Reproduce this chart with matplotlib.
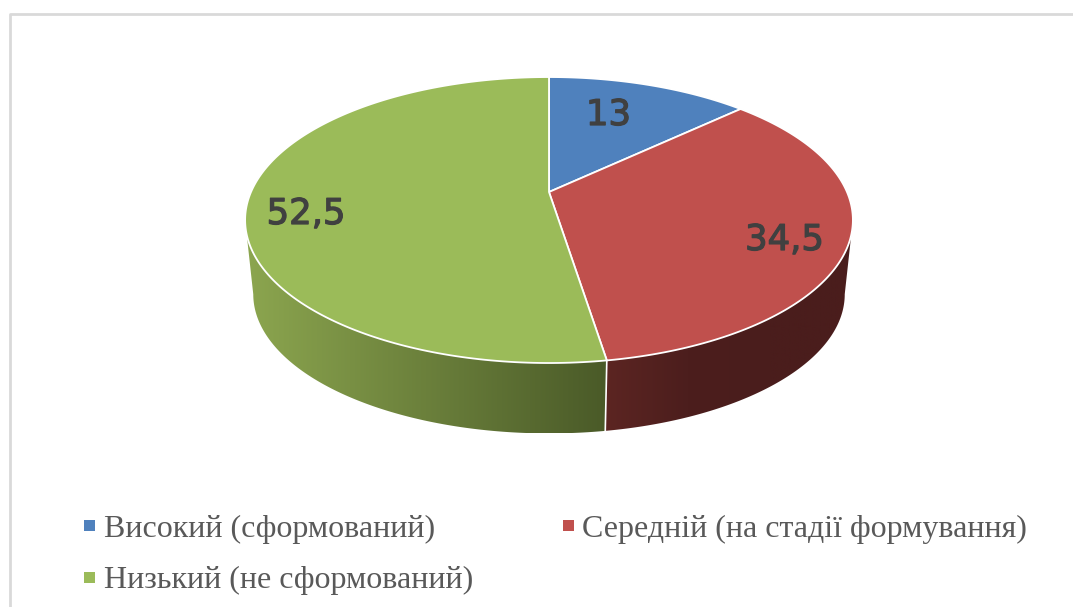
import numpy as np
import matplotlib
matplotlib.use("Agg")
import matplotlib.pyplot as plt
import matplotlib.patheffects as pe
from matplotlib.patches import Polygon, Rectangle

W, H = 1073, 607

categories = ["Високий (сформований)", "Середній (на стадії формування)", "Низький (не сформований)"]
values = [13, 34.5, 52.5]
value_labels = ["13", "34,5", "52,5"]
colors = ["#4F81BD", "#C0504D", "#9BBB59"]

# side wall gradient stops, left to right
green_side = ["#8CA64F", "#4A5A28"]
red_side = ["#5C2522", "#4C1E1D", "#4A1D1C", "#4A1D1C"]

label_pos = [(608.5, 125), (784.5, 250), (306, 224)]
legend_pos = [(84, 520), (563, 520), (84, 572)]
legend_text = [(104, 537), (582, 537), (104, 588)]

# perspective disc, angle is clockwise from the top in degrees
def rim(deg, cx, cy, a, b, p=0.196):
    t = np.radians(deg)
    u = np.sin(t)
    v = np.cos(t)
    d = 1 + p * v
    return cx + a * u / d, cy - b * v / d

def top_rim(deg):
    return rim(deg, 549, 192, 298, 137.5)

def bottom_rim(deg):
    return rim(deg, 549, 267, 290, 133.8)

def side_wall(ax, start, end, stops):
    th = np.linspace(start, end, 200)
    xt, yt = top_rim(th)
    xb, yb = bottom_rim(th)
    xs = np.r_[xt, xb[::-1]]
    ys = np.r_[yt, yb[::-1]]
    poly = Polygon(np.c_[xs, ys], closed=True, fc="none", ec="none")
    ax.add_patch(poly)
    cmap = matplotlib.colors.LinearSegmentedColormap.from_list("side", stops)
    grad = np.linspace(0, 1, 256)[None, :]
    im = ax.imshow(grad, cmap=cmap, extent=(xs.min(), xs.max(), ys.max(), ys.min()), aspect="auto", zorder=1)
    im.set_clip_path(poly)

fig = plt.figure(figsize=(W / 100, H / 100), dpi=100)
ax = fig.add_axes([0, 0, 1, 1])

# chart frame
ax.plot([9.5, 9.5, W], [H, 13.5, 13.5], color="#D9D9D9", lw=2, zorder=0)

edges = np.cumsum([0] + values) / sum(values) * 360

# side of the pie, only the slices at the front show
side_wall(ax, edges[2], 258.7, green_side)
side_wall(ax, 101.3, edges[2], red_side)

x0, y0 = top_rim(edges[2])
x1, y1 = bottom_rim(edges[2])
ax.plot([x0, x1], [y0, y1], color="white", lw=1.2, zorder=2)

# top of the pie
for i in range(len(values)):
    th = np.linspace(edges[i], edges[i + 1], 200)
    x, y = top_rim(th)
    ax.fill(np.r_[549, x], np.r_[192, y], fc=colors[i], ec="white", lw=1.3, zorder=3, joinstyle="round")

for i in range(len(values)):
    t = ax.text(label_pos[i][0], label_pos[i][1], value_labels[i], ha="center", va="baseline",
                fontsize=25.5, family="DejaVu Sans", color="#404040", zorder=4)
    # the labels are a bit heavier than the regular weight
    t.set_path_effects([pe.withStroke(linewidth=0.9, foreground="#404040")])

for i in range(len(categories)):
    ax.add_patch(Rectangle(legend_pos[i], 11, 10.5, fc=colors[i], ec="none"))
    ax.text(legend_text[i][0], legend_text[i][1], categories[i], ha="left", va="baseline",
            fontsize=23, family="Liberation Serif", color="#595959")

ax.set_xlim(0, W)
ax.set_ylim(H, 0)
ax.axis("off")
fig.savefig("out.png", dpi=100, facecolor="white")
